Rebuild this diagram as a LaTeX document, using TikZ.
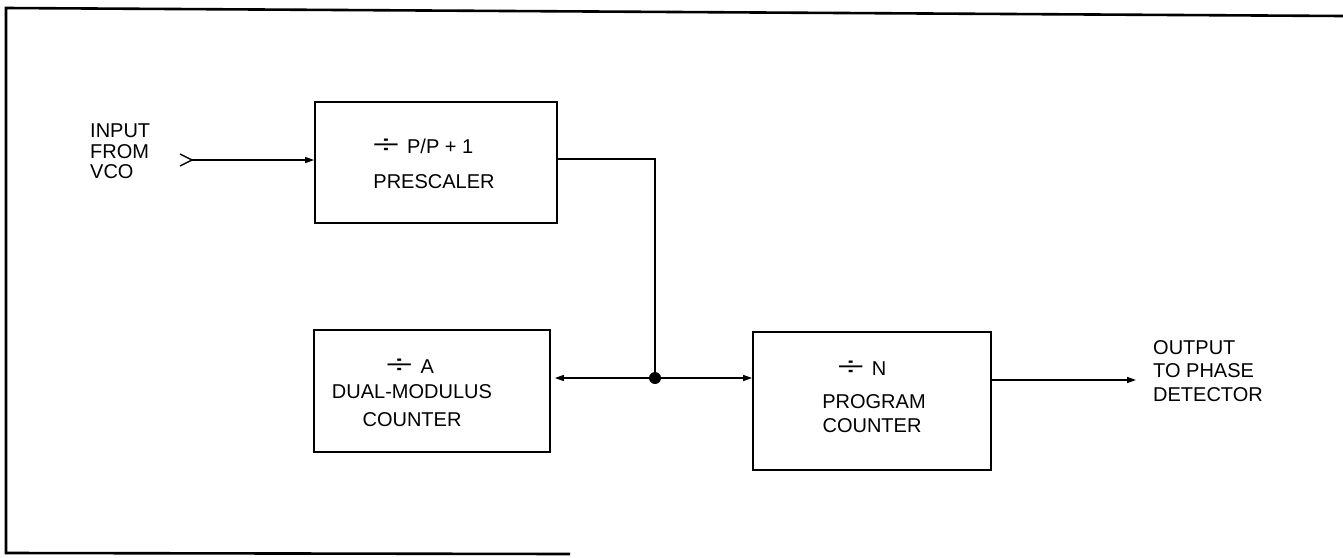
\documentclass[tikz,border=0pt]{standalone}
\usepackage{fontspec}
\usepackage{graphicx}
\setmainfont{Liberation Sans}
\usetikzlibrary{arrows.meta}
\newcommand{\dvsym}{\scalebox{2.4}[1.3]{÷}\hspace{8pt}}
\tikzset{
  box/.style={draw, line width=1.8pt, inner sep=0pt},
  lbl/.style={inner sep=0pt, font=\fontsize{20}{22}\selectfont},
  conn/.style={line width=1.4pt},
  arr/.style={conn, -{Triangle[length=9pt,width=6pt]}},
  frame/.style={line width=2.6pt}
}
\begin{document}
\begin{tikzpicture}[x=1pt,y=-1pt]
\useasboundingbox (0,0) rectangle (1343,557);
% frame
\coordinate (f1) at (1343,16);
\coordinate (f2) at (6,8);
\coordinate (f3) at (6,553);
\coordinate (f4) at (570,554);
\draw[frame] (f1) -- (f2) -- (f3) -- (f4);

% boxes
\node[box, minimum width=242pt, minimum height=121pt] (pre) at (436,162.5) {};
\node[box, minimum width=236pt, minimum height=122pt] (dual) at (432,391) {};
\node[box, minimum width=238pt, minimum height=138pt] (prog) at (872,401) {};

% box texts
\node[lbl] (preA) at (423,146) {\dvsym P/P + 1};
\node[lbl] (preB) at (434,181.5) {PRESCALER};
\node[lbl] (dualA) at (410,366) {\dvsym A};
\node[lbl] (dualB) at (412,392) {DUAL-MODULUS};
\node[lbl] (dualC) at (412,420) {COUNTER};
\node[lbl] (progA) at (862,368) {\dvsym N};
\node[lbl] (progB) at (874,402) {PROGRAM};
\node[lbl] (progC) at (872,426) {COUNTER};

% input
\node[lbl, anchor=north west, align=left, font=\fontsize{20}{20.5}\selectfont] (inlbl) at (90,124) {INPUT\\FROM\\VCO};
\coordinate (chvA) at (180,154);
\coordinate (chvT) at (192,160);
\coordinate (chvB) at (180,166);
\draw[conn] (chvA) -- (chvT) -- (chvB);
\draw[arr] (chvT) -- (pre.west |- chvT);

% prescaler output to junction
\coordinate (preOut) at (557,159);
\coordinate (corner) at (655,159);
\coordinate (junc) at (655,378);
\draw[conn] (preOut) -- (corner) -- (junc);
\fill (junc) circle (6pt);
\draw[arr, shorten >=4pt] (junc) -- (dual.east |- junc);
\draw[arr] (junc) -- (prog.west |- junc);

% output
\node[lbl, anchor=north west, align=left, font=\fontsize{20}{23.5}\selectfont] (outlbl) at (1153,340) {OUTPUT\\TO PHASE\\DETECTOR};
\coordinate (outEnd) at (1136,380);
\draw[arr] (prog.east |- outEnd) -- (outEnd);
\end{tikzpicture}
\end{document}
